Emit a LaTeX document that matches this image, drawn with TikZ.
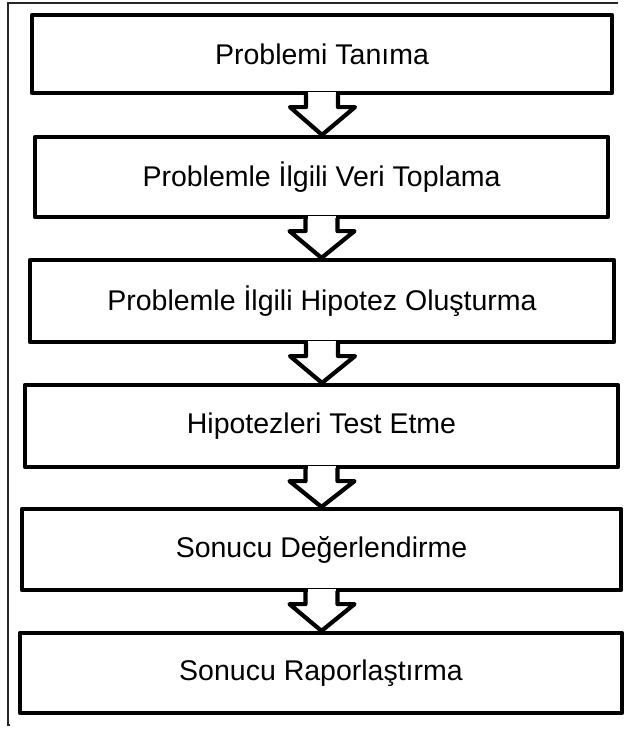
\documentclass[tikz,border=0pt]{standalone}
\usepackage{fontspec}
\setmainfont{Liberation Sans}
\usetikzlibrary{calc}
\tikzset{
  stepbox/.style={draw=black, line width=4.2pt, line join=round, fill=white,
    inner sep=0pt, font=\fontsize{28.5}{32}\selectfont, text=black},
  arrowline/.style={draw=black, line width=4.2pt, line join=round},
  framelinestyle/.style={draw=black!85, line width=1.2pt},
}
\newcommand{\flowarrow}[2]{%
  \fill[white] ($(#1.south)+(-14,-3)$) rectangle ($(#1.south)+(14,12)$);
  \fill[white] ($(#1.south)+(-33,12)$) -- ($(#1.south |- #2.north)$) -- ($(#1.south)+(33,12)$) -- cycle;
  \draw[arrowline] ($(#1.south)+(-16,-1)$) -- ($(#1.south)+(-16,12)$) -- ($(#1.south)+(-32,12)$)
    -- ($(#1.south |- #2.north)$) -- ($(#1.south)+(33,12)$) -- ($(#1.south)+(16,12)$) -- ($(#1.south)+(16,-1)$);
}
\begin{document}
\begin{tikzpicture}[x=1pt,y=-1pt]
\useasboundingbox (0,0) rectangle (626,729);
\fill[white] (0,0) rectangle (626,729);
\coordinate (fa) at (10,725);
\coordinate (fb) at (8,725);
\coordinate (fc) at (8,3);
\coordinate (fd) at (618,3);
\draw[framelinestyle] (fa) -- (fb) -- (fc) -- (fd);
\node[stepbox, minimum width=580pt, minimum height=78pt] (b1) at (322,54) {Problemi Tanıma};
\node[stepbox, minimum width=573pt, minimum height=80pt] (b2) at (321.5,177) {Problemle İlgili Veri Toplama};
\node[stepbox, minimum width=584pt, minimum height=82pt] (b3) at (322,301) {Problemle İlgili Hipotez Oluşturma};
\node[stepbox, minimum width=593pt, minimum height=82pt] (b4) at (321.5,426) {Hipotezleri Test Etme};
\node[stepbox, minimum width=599pt, minimum height=81pt] (b5) at (321.5,549.5) {Sonucu Değerlendirme};
\node[stepbox, minimum width=602pt, minimum height=80pt] (b6) at (321,673) {Sonucu Raporlaştırma};
\flowarrow{b1}{b2}
\flowarrow{b2}{b3}
\flowarrow{b3}{b4}
\flowarrow{b4}{b5}
\flowarrow{b5}{b6}
\end{tikzpicture}
\end{document}
